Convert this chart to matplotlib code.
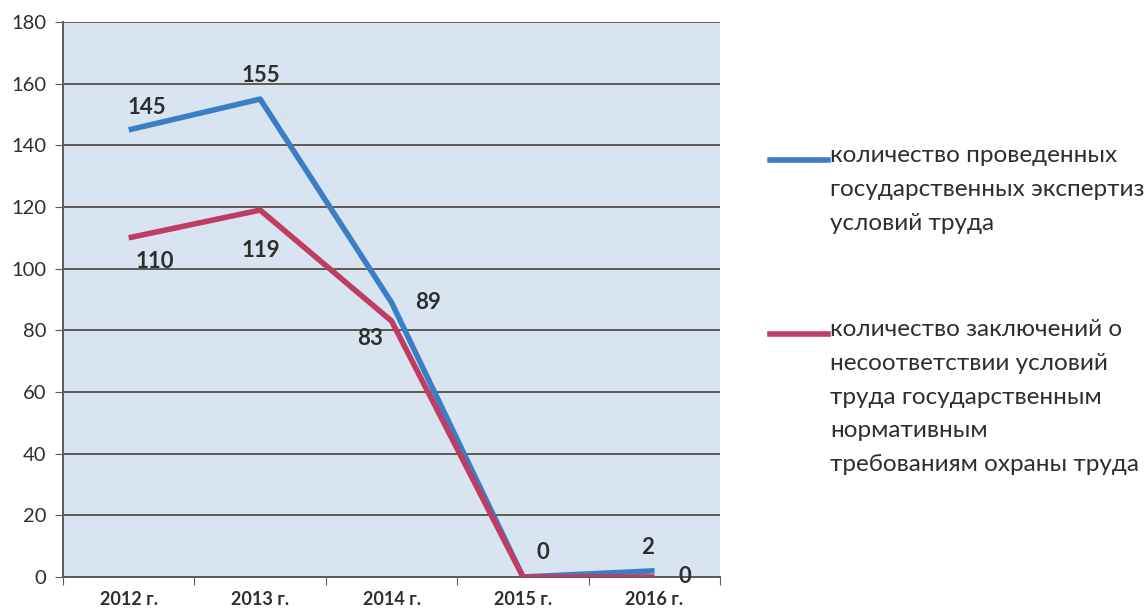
import matplotlib
matplotlib.use("Agg")
import matplotlib.pyplot as plt
from matplotlib.lines import Line2D

plt.rcParams['font.family'] = ['Lato', 'DejaVu Sans']

# Данные
years = ["2012 г.", "2013 г.", "2014 г.", "2015 г.", "2016 г."]
expertise = [145, 155, 89, 0, 2]
violations = [110, 119, 83, 0, 0]
label_expertise = "количество проведенных\nгосударственных экспертиз\nусловий труда"
label_violations = ("количество заключений о\nнесоответствии условий\n"
                    "труда государственным\nнормативным\nтребованиям охраны труда")

blue = "#3C7EC6"
red = "#BF3C62"
grid_col = "#5E5A57"
txt = "#2E2E2E"

# смещения подписей (в пикселях)
off_blue = [(18, 22), (1, 24), (36, 0), (20, 24), (-7, 23)]
off_red = [(26, -24), (1, -40), (-22, -17), None, (30, 0)]

fig = plt.figure(figsize=(11.45, 6.14), dpi=100)
ax = fig.add_axes([0.055, 0.0603, 0.574, 0.9039])
ax.set_facecolor("#D8E5F1")

x = list(range(len(years)))
ax.plot(x, expertise, color=blue, lw=4, solid_capstyle='butt', zorder=3)
ax.plot(x, violations, color=red, lw=4, solid_capstyle='butt', zorder=4)

for xi, v, off in zip(x, expertise, off_blue):
    ax.annotate(str(v), (xi, v), xytext=off, textcoords='offset pixels',
                ha='center', va='center', fontsize=16, fontweight='bold',
                color=txt, zorder=5)
for xi, v, off in zip(x, violations, off_red):
    if off is None:
        continue
    ax.annotate(str(v), (xi, v), xytext=off, textcoords='offset pixels',
                ha='center', va='center', fontsize=16, fontweight='bold',
                color=txt, zorder=5)

ax.set_xlim(-0.5, 4.5)
ax.set_ylim(0, 180)
ax.set_yticks(range(0, 181, 20))
ax.tick_params(axis='y', labelsize=14.5, length=6, color=grid_col,
               labelcolor=txt, pad=6)
ax.grid(axis='y', color=grid_col, lw=1.4, zorder=1)
ax.set_axisbelow(True)

ax.set_xticks([i - 0.5 for i in range(len(years) + 1)])
ax.set_xticklabels([])
ax.set_xticks(x, minor=True)
ax.set_xticklabels(years, minor=True, fontsize=13, fontweight='bold',
                   color=txt)
ax.tick_params(axis='x', which='major', length=6, color=grid_col)
ax.tick_params(axis='x', which='minor', length=0, pad=10)

for s in ['top', 'right']:
    ax.spines[s].set_visible(False)
for s in ['left', 'bottom']:
    ax.spines[s].set_color(grid_col)
    ax.spines[s].set_linewidth(1.4)

# легенда
def fx(px):
    return px / 1145

def fy(py):
    return 1 - py / 614

for col, lab, py in [(blue, label_expertise, 160), (red, label_violations, 334)]:
    fig.add_artist(Line2D([fx(770), fx(828)], [fy(py), fy(py)],
                          color=col, lw=4, transform=fig.transFigure))
    fig.text(fx(830), fy(py - 15), lab, ha='left', va='top', fontsize=17.5,
             color=txt, linespacing=1.75)

fig.savefig("out.png", dpi=100)
